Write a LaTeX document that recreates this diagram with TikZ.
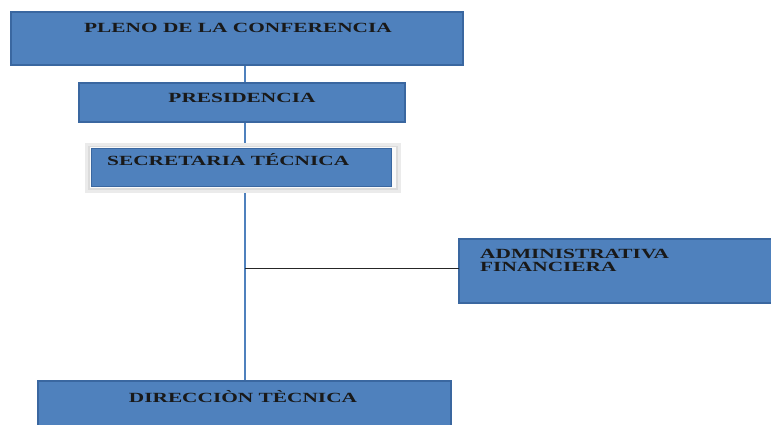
\documentclass[tikz,border=0pt]{standalone}
\usepackage{graphicx}
\usepackage{fontspec}
\setmainfont{Liberation Serif}[FakeStretch=1.2]
\newcommand{\wide}[1]{\scalebox{1.27}[1]{#1}}
\begin{document}
\begin{tikzpicture}[x=1pt,y=-1pt,
  box/.style={draw=boxedge,fill=boxblue,line width=1.8pt},
  lbl/.style={font=\bfseries\fontsize{14}{13.5}\selectfont,text=black!90,inner sep=0pt},
  blueline/.style={draw=boxblue,line width=1.8pt},
  blackline/.style={draw=black!85,line width=1pt}]
\definecolor{boxblue}{HTML}{4F81BD}
\definecolor{boxedge}{HTML}{3A67A0}
\useasboundingbox (0,0) rectangle (771,425);
\fill[white] (0,0) rectangle (771,425);
% connectors (under boxes)
\coordinate (j) at (245,268);
\draw[blueline] (245,65) -- (245,83);
\draw[blueline] (245,122) -- (245,145);
\draw[blueline] (245,192) -- (245,381);
% boxes
\draw[box] (11,12) rectangle (463,65);
\node[lbl] (pleno) at (238,28) {\wide{PLENO DE LA CONFERENCIA}};
\draw[box] (79,83) rectangle (405,122);
\node[lbl] (pres) at (242,98) {\wide{PRESIDENCIA}};
\fill[black!8] (85,143) rectangle (401,193);
\fill[black!14] (88,146) rectangle (398,190);
\fill[white!96!gray] (90,147) rectangle (396,188);
\draw[box,line width=0.6pt] (91,148) rectangle (391,186);
\node[lbl,anchor=west] (sec) at (107,160) {\wide{SECRETARIA TÉCNICA}};
\draw[box] (459,239) rectangle (772,303);
\node[lbl,anchor=north west,align=left] (adm) at (480,249) {\wide{ADMINISTRATIVA}\\\wide{FINANCIERA}};
\draw[box] (38,381) rectangle (451,432);
\node[lbl] (dir) at (243,397) {\wide{DIRECCIÒN TÈCNICA}};
\coordinate (admw) at (459,268);
\draw[blackline] (j) -- (admw);
\end{tikzpicture}
\end{document}
